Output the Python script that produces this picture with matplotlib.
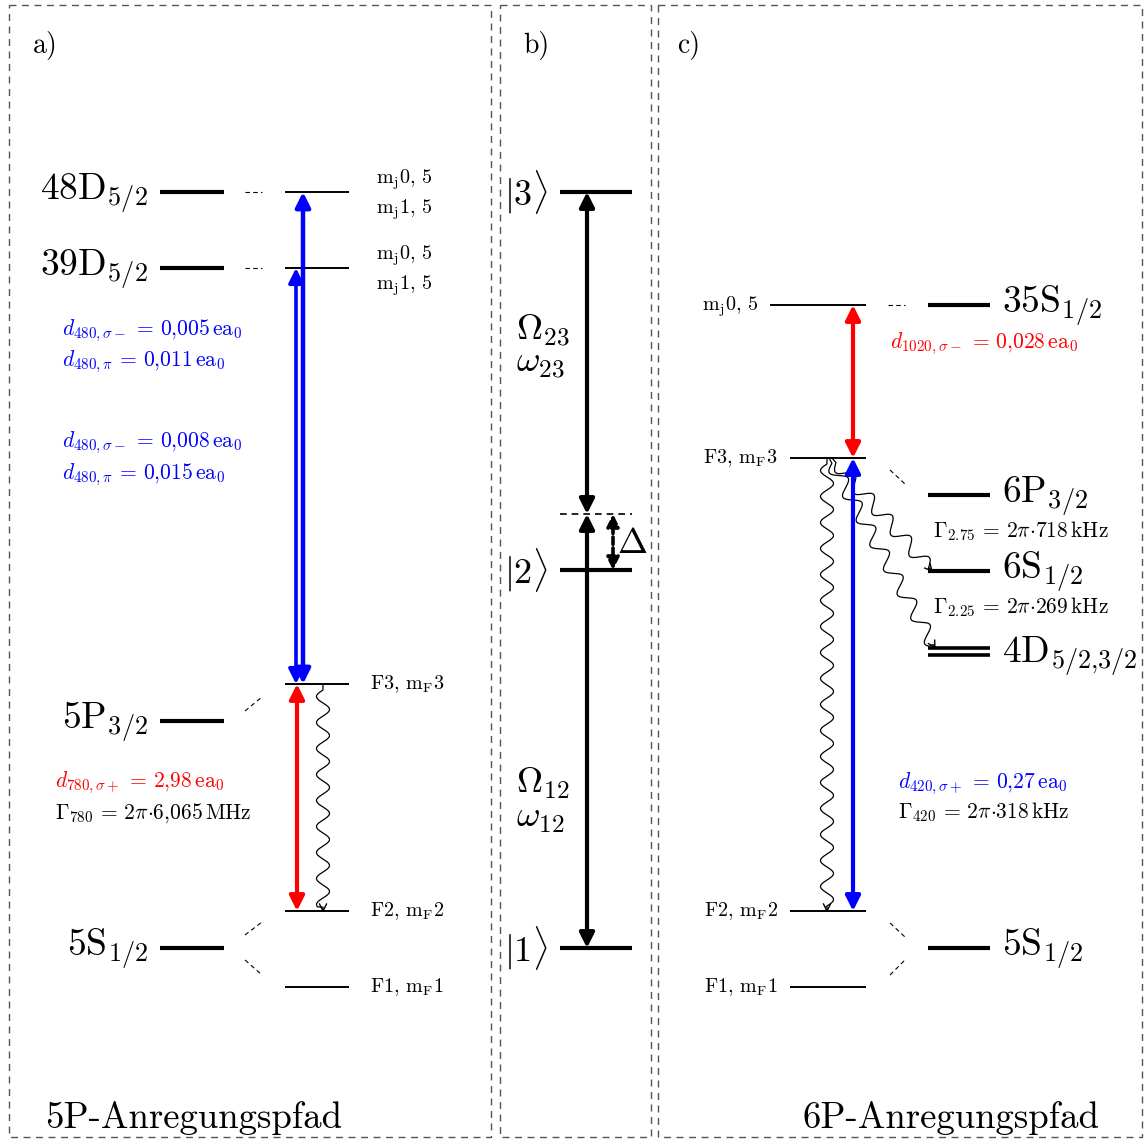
import numpy as np
import matplotlib.pyplot as plt
from matplotlib.patches import Rectangle

plt.rcParams['mathtext.fontset'] = 'cm'
plt.rcParams['font.family'] = ['cmr10', 'DejaVu Serif']

# level heights (pixel-like energy scale, top = high energy)
a_levels = ['48D', '39D', '5P', '5S']
a_level_y = [192, 268, 721, 948]
a_level_labels = [r'$\mathrm{48D}_{5/2}$', r'$\mathrm{39D}_{5/2}$',
                  r'$\mathrm{5P}_{3/2}$', r'$\mathrm{5S}_{1/2}$']
a_sub_y = [192, 268, 684, 911, 987]
a_f_labels = [r'$\mathrm{F3},\,\mathrm{m_F}3$', r'$\mathrm{F2},\,\mathrm{m_F}2$',
              r'$\mathrm{F1},\,\mathrm{m_F}1$']

b_level_y = [948, 570, 192]
b_virtual_y = 514
b_labels = [r'$|1\rangle$', r'$|2\rangle$', r'$|3\rangle$']

c_level_y = [305, 495, 571, 948]
c_4d_y = [648, 655]
c_level_labels = [r'$\mathrm{35S}_{1/2}$', r'$\mathrm{6P}_{3/2}$',
                  r'$\mathrm{6S}_{1/2}$', r'$\mathrm{5S}_{1/2}$']
c_sub_y = [305, 458, 911, 987]
c_sub_labels = [r'$\mathrm{m_j}0,\,5$', r'$\mathrm{F3},\,\mathrm{m_F}3$',
                r'$\mathrm{F2},\,\mathrm{m_F}2$', r'$\mathrm{F1},\,\mathrm{m_F}1$']

d480 = [(r'\sigma-', '0{,}005'), (r'\pi', '0{,}011'),
        (r'\sigma-', '0{,}008'), (r'\pi', '0{,}015')]
d780 = '2{,}98'
gamma780 = '6{,}065'
d1020 = '0{,}028'
d420 = '0{,}27'
gamma275 = '718'
gamma225 = '269'
gamma420 = '318'

fig = plt.figure(figsize=(11.47, 11.40), dpi=100)
ax = fig.add_axes([0, 0, 1, 1])
ax.set_xlim(0, 1147)
ax.set_ylim(1140, 0)
ax.axis('off')

BIG = 27
MID = 15.5
SMALL = 14.5


def level(x0, x1, y, lw=3.0, **kw):
    ax.plot([x0, x1], [y, y], color='black', lw=lw, solid_capstyle='butt', **kw)


def dbl_arrow(x, y0, y1, color='black', lw=3.0, ls='-', ms=22):
    ax.annotate('', xy=(x, y1), xytext=(x, y0),
                arrowprops=dict(arrowstyle='<|-|>', color=color, lw=lw, ls=ls,
                                mutation_scale=ms, shrinkA=0, shrinkB=0))


def wavy(x0, y0, x1, y1, amp=6.5, wl=26.0, lead=6.0):
    L = np.hypot(x1 - x0, y1 - y0)
    ux, uy = (x1 - x0) / L, (y1 - y0) / L
    px, py = -uy, ux
    s = np.linspace(0, L, 600)
    off = np.where(s < lead, 0.0, amp * np.sin(2 * np.pi * (s - lead) / wl))
    off = np.where(s > L - 4, 0.0, off)
    ax.plot(x0 + ux * s + px * off, y0 + uy * s + py * off, color='black', lw=0.9)
    # small arrow tip
    hx, hy = x1 - ux * 7, y1 - uy * 7
    ax.plot([hx + px * 3.5, x1, hx - px * 3.5], [hy + py * 3.5, y1, hy - py * 3.5],
            color='black', lw=1.0)


def dash(x0, y0, x1, y1):
    ax.plot([x0, x1], [y0, y1], color='black', lw=0.8, ls=(0, (4, 3)))


def formula(sym, sub, val, unit, pre=''):
    return r'$%s_{%s}\,=\,%s\mathrm{%s}\,\mathrm{%s}$' % (sym, sub, pre, val, unit)


# panel frames
for (x0, x1) in [(9, 491), (500, 651), (658, 1142)]:
    ax.add_patch(Rectangle((x0, 5), x1 - x0, 1132, fill=False, ec='#555555',
                           lw=1.0, ls=(0, (5, 4))))

ax.text(33, 53, 'a)', fontsize=20)
ax.text(523, 53, 'b)', fontsize=20)
ax.text(677, 53, 'c)', fontsize=20)

# ---- a) 5P path ----
for y, lab in zip(a_level_y, a_level_labels):
    level(160, 224, y)
    ax.text(148, y + 8, lab, fontsize=BIG, ha='right', va='baseline')
for y in a_sub_y:
    level(285, 349, y, lw=1.4)
dash(245, 192, 262, 192)
dash(245, 268, 262, 268)
dash(245, 711, 262, 697)
dash(245, 935, 262, 922)
dash(245, 960, 262, 975)
for y in a_level_y[:2]:
    ax.text(376, y - 9, r'$\mathrm{m_j}0,\,5$', fontsize=SMALL, va='baseline')
    ax.text(376, y + 21, r'$\mathrm{m_j}1,\,5$', fontsize=SMALL, va='baseline')
for y, lab in zip(a_sub_y[2:], a_f_labels):
    ax.text(370, y + 5, lab, fontsize=SMALL, va='baseline')

dbl_arrow(303, a_sub_y[2], a_sub_y[0], color='blue', lw=3.2)
dbl_arrow(296, a_sub_y[2], a_sub_y[1], color='blue', lw=2.6)
dbl_arrow(297, a_sub_y[3], a_sub_y[2], color='red', lw=3.0)
wavy(323, a_sub_y[2], 323, a_sub_y[3])

for yb, (pol, val) in zip([335, 366, 447, 479], d480):
    ax.text(62, yb, formula('d', '480,' + pol, val, 'ea_0'),
            fontsize=MID, color='blue', va='baseline')
ax.text(55, 787, formula('d', r'780,\sigma+', d780, 'ea_0'),
        fontsize=MID, color='red', va='baseline')
ax.text(55, 819, formula(r'\Gamma', '780', gamma780, 'MHz', pre=r'2\pi{\cdot}'),
        fontsize=MID, va='baseline')
ax.text(45, 1128, '5P-Anregungspfad', fontsize=26.5, va='baseline')

# ---- b) three-level scheme ----
for y, lab in zip(b_level_y, b_labels):
    level(560, 632, y)
    ax.text(526, y, lab, fontsize=26, ha='center', va='center')
ax.plot([560, 632], [b_virtual_y, b_virtual_y], color='black', lw=1.2, ls=(0, (4, 3)))
dbl_arrow(587, b_level_y[0], b_virtual_y)
dbl_arrow(587, b_virtual_y, b_level_y[2])
dbl_arrow(613, b_level_y[1], b_virtual_y, ls=(0, (2, 1)), lw=2.6, ms=18)
ax.text(617, 553, r'$\Delta$', fontsize=26, va='baseline')
ax.text(516, 340, r'$\Omega_{23}$', fontsize=26, va='baseline')
ax.text(516, 372, r'$\omega_{23}$', fontsize=26, va='baseline')
ax.text(516, 793, r'$\Omega_{12}$', fontsize=26, va='baseline')
ax.text(516, 827, r'$\omega_{12}$', fontsize=26, va='baseline')

# ---- c) 6P path ----
for y, lab in zip(c_level_y, c_level_labels):
    level(928, 990, y)
    ax.text(1002, y + 8, lab, fontsize=BIG, va='baseline')
for y in c_4d_y:
    level(928, 990, y, lw=2.6)
ax.text(1002, 663, r'$\mathrm{4D}_{5/2{,}3/2}$', fontsize=BIG, va='baseline')

level(770, 866, c_sub_y[0], lw=1.4)
for y in c_sub_y[1:]:
    level(790, 866, y, lw=1.4)
ax.text(758, c_sub_y[0] + 5, c_sub_labels[0], fontsize=SMALL, ha='right', va='baseline')
for y, lab in zip(c_sub_y[1:], c_sub_labels[1:]):
    ax.text(778, y + 5, lab, fontsize=SMALL, ha='right', va='baseline')
dash(888, 305, 905, 305)
dash(890, 470, 905, 484)
dash(890, 923, 905, 937)
dash(890, 975, 905, 960)

dbl_arrow(853, c_sub_y[1], c_sub_y[0], color='red', lw=3.0)
dbl_arrow(853, c_sub_y[2], c_sub_y[1], color='blue', lw=3.0)
wavy(827, c_sub_y[1], 827, c_sub_y[2])
wavy(832, c_sub_y[1], 932, c_level_y[2], amp=7, wl=28)
wavy(829, c_sub_y[1], 935, c_4d_y[0], amp=7, wl=28)

ax.text(890, 348, formula('d', r'1020,\sigma-', d1020, 'ea_0'),
        fontsize=MID, color='red', va='baseline')
ax.text(933, 537, formula(r'\Gamma', '2.75', gamma275, 'kHz', pre=r'2\pi{\cdot}'),
        fontsize=MID, va='baseline')
ax.text(933, 613, formula(r'\Gamma', '2.25', gamma225, 'kHz', pre=r'2\pi{\cdot}'),
        fontsize=MID, va='baseline')
ax.text(898, 788, formula('d', r'420,\sigma+', d420, 'ea_0'),
        fontsize=MID, color='blue', va='baseline')
ax.text(898, 818, formula(r'\Gamma', '420', gamma420, 'kHz', pre=r'2\pi{\cdot}'),
        fontsize=MID, va='baseline')
ax.text(803, 1128, '6P-Anregungspfad', fontsize=26.5, va='baseline')

fig.savefig('out.png', dpi=100)
